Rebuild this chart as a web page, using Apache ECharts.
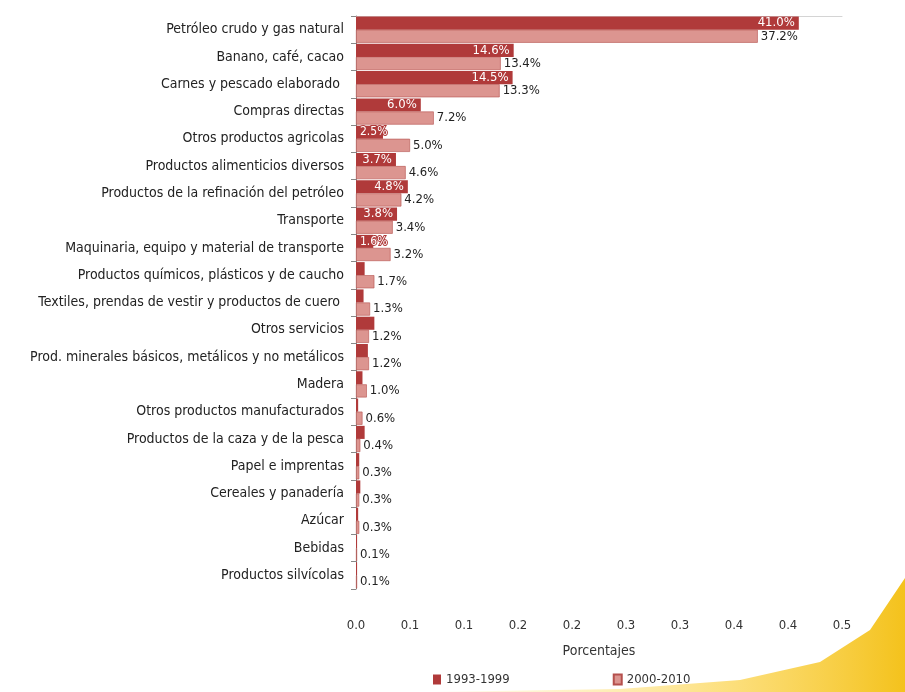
<!DOCTYPE html>
<html>
<head>
<meta http-equiv="Content-Type" content="text/html; charset=utf-8">
<title>Exportaciones por producto</title>
<script src="https://cdn.jsdelivr.net/npm/echarts@6/dist/echarts.min.js"></script>
<style>
	html, body { margin: 0; padding: 0; background: #fff; }
	#chart { width: 905px; height: 692px; }
</style>
</head>
<body>
	<div id="chart"></div>
	<script type="text/javascript">
		var categorias = ['Petróleo crudo y gas natural', 'Banano, café, cacao', 'Carnes y pescado elaborado ',
			'Compras directas', 'Otros productos agricolas', 'Productos alimenticios diversos',
			'Productos de la refinación del petróleo', 'Transporte', 'Maquinaria, equipo y material de transporte',
			'Productos químicos, plásticos y de caucho', 'Textiles, prendas de vestir y productos de cuero ',
			'Otros servicios', 'Prod. minerales básicos, metálicos y no metálicos', 'Madera',
			'Otros productos manufacturados', 'Productos de la caza y de la pesca', 'Papel e imprentas',
			'Cereales y panadería', 'Azúcar', 'Bebidas', 'Productos silvícolas'];
		var serie9399 = [0.410, 0.146, 0.145, 0.060, 0.025, 0.037, 0.048, 0.038, 0.016,
			0.008, 0.007, 0.017, 0.011, 0.006, 0.002, 0.008, 0.003, 0.004, 0.002, 0.001, 0.001];
		var serie0010 = [0.372, 0.134, 0.133, 0.072, 0.050, 0.046, 0.042, 0.034, 0.032,
			0.017, 0.013, 0.012, 0.012, 0.010, 0.006, 0.004, 0.003, 0.003, 0.003, 0.001, 0.001];
		var etiquetas9399 = 9; // solo las primeras barras llevan etiqueta
		var ticksX = ['0.0', '0.1', '0.1', '0.2', '0.2', '0.3', '0.3', '0.4', '0.4', '0.5'];

		var fuente = '"Liberation Sans Narrow", "DejaVu Sans Condensed", sans-serif';
		var pct = function(v) { return (v * 100).toFixed(1) + '%'; };

		// barras cortas: la etiqueta empieza en el eje y sale de la barra
		var datos9399 = serie9399.map(function(v, i) {
			var corta = v < 0.03;
			return {
				value : v,
				label : {
					show : i < etiquetas9399,
					position : corta ? 'insideLeft' : 'insideRight',
					fontSize : corta ? 12 : 13,
					textBorderColor : corta ? '#b03a3a' : 'transparent',
					textBorderWidth : corta ? 2 : 0
				}
			};
		});

		var option = {
			backgroundColor : '#ffffff',
			textStyle : { fontFamily : fuente },
			// franja amarilla decorativa de la diapositiva
			graphic : [ {
				type : 'polygon',
				z : -10,
				silent : true,
				shape : {
					points : [ [430, 692], [620, 689], [740, 680], [820, 662], [870, 630], [905, 578], [905, 692] ]
				},
				style : {
					fill : {
						type : 'linear', x : 0, y : 0, x2 : 1, y2 : 0,
						colorStops : [
							{ offset : 0, color : 'rgba(255,236,170,0.2)' },
							{ offset : 0.6, color : 'rgba(252,215,90,0.75)' },
							{ offset : 1, color : '#f4c21c' } ]
					}
				}
			} ],
			grid : {
				left : 356,
				right : 63,
				top : 16,
				bottom : 103
			},
			legend : {
				left : 428,
				top : 668,
				itemGap : 103,
				itemWidth : 8,
				itemHeight : 10,
				icon : 'rect',
				textStyle : { fontSize : 13, color : '#333', fontFamily : fuente },
				data : [ '1993-1999', '2000-2010' ]
			},
			xAxis : [ {
				type : 'value',
				min : 0,
				max : 0.45,
				interval : 0.05,
				name : 'Porcentajes',
				nameLocation : 'middle',
				nameGap : 55,
				nameTextStyle : { fontSize : 14, color : '#333', fontFamily : fuente },
				axisLine : { show : false },
				axisTick : { show : false },
				splitLine : { show : false },
				axisLabel : {
					margin : 30,
					fontSize : 13,
					color : '#333',
					fontFamily : fuente,
					formatter : function(v, i) { return ticksX[i]; }
				}
			}, {
				type : 'value',
				position : 'top',
				min : 0,
				max : 0.45,
				interval : 0.05,
				axisLine : { show : true, lineStyle : { color : '#d4d4d4' } },
				axisTick : { show : false },
				axisLabel : { show : false },
				splitLine : { show : false }
			} ],
			yAxis : {
				type : 'category',
				inverse : true,
				data : categorias,
				axisLine : { lineStyle : { color : '#888' } },
				axisTick : { show : true, inside : false, length : 5, lineStyle : { color : '#888' } },
				axisLabel : {
					margin : 12,
					fontSize : 14,
					color : '#222',
					fontFamily : fuente
				}
			},
			series : [ {
				name : '1993-1999',
				type : 'bar',
				data : datos9399,
				barGap : '0%',
				barCategoryGap : '4%',
				itemStyle : { color : '#b03a3a' },
				label : {
					color : '#fff',
					fontSize : 13,
					distance : 4,
					overflow : 'none',
					fontFamily : fuente,
					formatter : function(p) { return pct(p.value); }
				}
			}, {
				name : '2000-2010',
				type : 'bar',
				data : serie0010,
				barGap : '0%',
				barCategoryGap : '4%',
				itemStyle : { color : '#dc9590', borderColor : '#b5504d', borderWidth : 0.6 },
				label : {
					show : true,
					position : 'right',
					distance : 3,
					color : '#222',
					fontSize : 13,
					fontFamily : fuente,
					formatter : function(p) { return pct(p.value); }
				}
			} ]
		};

		var chart = echarts.init(document.getElementById('chart'));
		chart.setOption(option);
	</script>
</body>
</html>
